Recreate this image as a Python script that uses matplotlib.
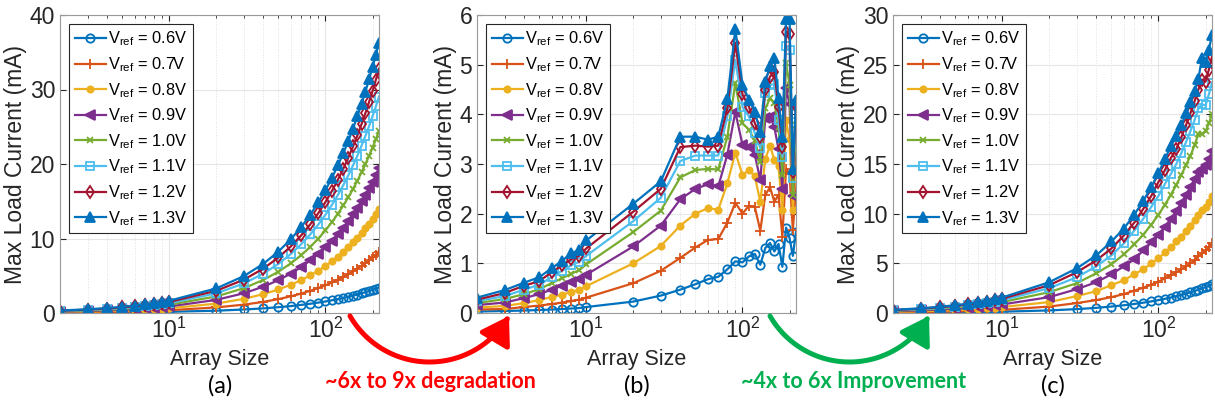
import numpy as np
import matplotlib
matplotlib.use("Agg")
import matplotlib.pyplot as plt
from matplotlib.path import Path
from matplotlib.patches import FancyArrowPatch
from matplotlib.ticker import LogLocator, NullFormatter

plt.rcParams['font.family'] = ['Liberation Sans', 'DejaVu Sans']
plt.rcParams['mathtext.fontset'] = 'custom'
plt.rcParams['mathtext.rm'] = 'Liberation Sans'
plt.rcParams['mathtext.it'] = 'Liberation Sans:italic'
plt.rcParams['mathtext.bf'] = 'Liberation Sans:bold'

# array sizes on the x axis
sizes = [2, 3, 4, 5, 6, 7, 8, 9, 10,
         20, 30, 40, 50, 60, 70, 80, 90, 100,
         110, 120, 130, 140, 150, 160, 170, 180, 190, 200, 210, 220]

vrefs = ['0.6', '0.7', '0.8', '0.9', '1.0', '1.1', '1.2', '1.3']

# (a) max load current, mA
cur_a = [
    [0.03, 0.05, 0.06, 0.08, 0.09, 0.11, 0.12, 0.14, 0.16,
     0.31, 0.47, 0.62, 0.78, 0.93, 1.09, 1.24, 1.40, 1.55,
     1.71, 1.86, 2.02, 2.17, 2.33, 2.48, 2.64, 2.79, 2.95, 3.10, 3.26, 3.41],
    [0.07, 0.11, 0.15, 0.19, 0.22, 0.26, 0.30, 0.34, 0.37,
     0.75, 1.12, 1.49, 1.87, 2.24, 2.61, 2.98, 3.36, 3.73,
     4.10, 4.48, 4.85, 5.22, 5.60, 5.97, 6.34, 6.71, 7.09, 7.46, 7.83, 8.21],
    [0.13, 0.19, 0.25, 0.32, 0.38, 0.44, 0.51, 0.57, 0.63,
     1.26, 1.90, 2.53, 3.16, 3.79, 4.42, 5.06, 5.69, 6.32,
     6.95, 7.58, 8.22, 8.85, 9.48, 10.11, 10.74, 11.38, 12.01, 12.64, 13.27, 13.90],
    [0.18, 0.26, 0.35, 0.44, 0.53, 0.62, 0.71, 0.79, 0.88,
     1.76, 2.65, 3.53, 4.41, 5.29, 6.17, 7.06, 7.94, 8.82,
     9.70, 10.58, 11.47, 12.35, 13.23, 14.11, 14.99, 15.88, 16.76, 17.64, 18.52, 19.40],
    [0.22, 0.33, 0.44, 0.56, 0.67, 0.78, 0.89, 1.00, 1.11,
     2.22, 3.33, 4.44, 5.55, 6.66, 7.77, 8.88, 9.99, 11.10,
     12.21, 13.32, 14.43, 15.54, 16.65, 17.76, 18.87, 19.98, 21.09, 22.20, 23.31, 24.42],
    [0.26, 0.40, 0.53, 0.66, 0.79, 0.92, 1.06, 1.19, 1.32,
     2.64, 3.96, 5.28, 6.60, 7.92, 9.24, 10.56, 11.88, 13.20,
     14.52, 15.84, 17.16, 18.48, 19.80, 21.12, 22.44, 23.76, 25.08, 26.40, 27.72, 29.04],
    [0.30, 0.45, 0.60, 0.75, 0.89, 1.04, 1.19, 1.34, 1.49,
     2.98, 4.47, 5.96, 7.45, 8.94, 10.43, 11.92, 13.41, 14.90,
     16.39, 17.88, 19.37, 20.86, 22.35, 23.84, 25.33, 26.82, 28.31, 29.80, 31.29, 32.78],
    [0.33, 0.50, 0.66, 0.83, 0.99, 1.16, 1.32, 1.49, 1.65,
     3.30, 4.95, 6.60, 8.25, 9.90, 11.55, 13.20, 14.85, 16.50,
     18.15, 19.80, 21.45, 23.10, 24.75, 26.40, 28.05, 29.70, 31.35, 33.00, 34.65, 36.30],
]

# (b) max load current, mA
cur_b = [
    [0.03, 0.04, 0.05, 0.06, 0.07, 0.08, 0.09, 0.10, 0.12,
     0.23, 0.35, 0.47, 0.58, 0.68, 0.73, 0.88, 1.04, 1.02,
     1.14, 1.19, 0.97, 1.31, 1.41, 1.24, 1.39, 0.93, 1.72, 1.51, 1.15, 1.63],
    [0.07, 0.08, 0.12, 0.15, 0.18, 0.21, 0.24, 0.27, 0.31,
     0.60, 0.85, 1.11, 1.32, 1.47, 1.49, 1.82, 2.22, 2.00,
     2.16, 2.13, 1.66, 2.38, 2.53, 2.24, 2.38, 1.54, 2.90, 2.80, 1.67, 2.51],
    [0.11, 0.14, 0.20, 0.26, 0.32, 0.37, 0.42, 0.47, 0.54,
     1.00, 1.35, 1.76, 2.00, 2.11, 2.08, 2.61, 3.23, 2.78,
     2.88, 2.75, 2.24, 3.10, 3.37, 3.08, 2.95, 2.08, 3.88, 3.50, 2.08, 3.10],
    [0.16, 0.21, 0.30, 0.38, 0.47, 0.55, 0.62, 0.68, 0.77,
     1.34, 1.76, 2.29, 2.50, 2.59, 2.55, 3.19, 4.05, 3.38,
     3.35, 3.18, 2.68, 3.92, 3.95, 3.74, 3.30, 2.50, 4.53, 4.20, 2.35, 3.51],
    [0.20, 0.28, 0.38, 0.48, 0.60, 0.70, 0.79, 0.86, 0.98,
     1.63, 2.06, 2.73, 2.88, 2.90, 2.89, 3.55, 4.63, 3.82,
     3.69, 3.47, 3.05, 4.12, 4.32, 4.23, 3.75, 2.78, 5.03, 4.60, 2.38, 3.79],
    [0.24, 0.34, 0.47, 0.57, 0.72, 0.85, 0.96, 1.03, 1.15,
     1.85, 2.32, 3.06, 3.17, 3.17, 3.17, 3.96, 5.10, 4.15,
     3.96, 3.62, 3.32, 4.42, 4.59, 4.61, 3.89, 3.15, 5.37, 5.30, 2.72, 4.00],
    [0.27, 0.40, 0.55, 0.64, 0.82, 0.96, 1.08, 1.15, 1.30,
     2.04, 2.50, 3.34, 3.37, 3.35, 3.37, 4.13, 5.44, 4.40,
     4.15, 3.82, 3.55, 4.50, 4.76, 4.86, 4.15, 3.35, 5.66, 5.61, 2.83, 4.16],
    [0.31, 0.46, 0.61, 0.72, 0.90, 1.05, 1.20, 1.27, 1.46,
     2.20, 2.65, 3.55, 3.55, 3.49, 3.55, 4.31, 5.71, 4.60,
     4.29, 4.05, 3.64, 4.66, 4.97, 5.13, 4.32, 3.55, 5.92, 5.91, 2.90, 4.29],
]

# (c) max load current, mA
cur_c = [
    [0.03, 0.04, 0.05, 0.07, 0.08, 0.09, 0.11, 0.12, 0.13,
     0.26, 0.39, 0.52, 0.65, 0.78, 0.91, 1.04, 1.17, 1.30,
     1.43, 1.56, 1.69, 1.82, 1.95, 2.08, 2.21, 2.34, 2.47, 2.60, 2.74, 2.88],
    [0.06, 0.10, 0.13, 0.16, 0.19, 0.22, 0.26, 0.29, 0.32,
     0.65, 1.00, 1.30, 1.60, 1.90, 2.25, 2.55, 2.85, 3.15,
     3.50, 3.80, 4.10, 4.40, 4.70, 5.00, 5.30, 5.70, 6.00, 6.30, 6.60, 7.00],
    [0.12, 0.18, 0.24, 0.30, 0.36, 0.42, 0.48, 0.54, 0.60,
     1.10, 1.70, 2.20, 2.80, 3.30, 3.90, 4.40, 5.00, 5.50,
     6.10, 6.60, 7.20, 7.70, 8.30, 8.80, 9.40, 9.90, 10.40, 10.70, 11.20, 11.80],
    [0.17, 0.26, 0.35, 0.43, 0.52, 0.60, 0.69, 0.78, 0.86,
     1.60, 2.40, 3.10, 3.90, 4.70, 5.40, 6.30, 7.10, 7.90,
     8.70, 9.50, 10.30, 11.10, 11.90, 12.70, 13.50, 14.20, 14.50, 14.90, 15.50, 16.30],
    [0.22, 0.33, 0.44, 0.55, 0.66, 0.77, 0.88, 0.99, 1.10,
     2.10, 3.00, 4.00, 4.90, 5.90, 6.90, 7.90, 8.90, 9.90,
     10.90, 11.90, 12.90, 13.90, 14.90, 15.80, 16.90, 18.00, 18.00, 18.30, 19.10, 20.00],
    [0.26, 0.38, 0.51, 0.64, 0.77, 0.89, 1.02, 1.15, 1.28,
     2.50, 3.60, 4.70, 5.80, 7.00, 8.30, 9.50, 10.70, 11.80,
     13.00, 14.00, 15.00, 16.10, 17.20, 18.30, 19.40, 20.60, 21.00, 20.90, 22.00, 23.20],
    [0.29, 0.43, 0.58, 0.72, 0.86, 1.01, 1.15, 1.29, 1.44,
     2.80, 4.10, 5.30, 6.50, 7.80, 9.10, 10.50, 11.80, 13.20,
     14.40, 15.60, 16.50, 17.70, 18.90, 20.10, 21.30, 22.50, 23.50, 23.30, 24.50, 25.80],
    [0.32, 0.47, 0.63, 0.78, 0.94, 1.09, 1.25, 1.40, 1.56,
     3.10, 4.50, 5.80, 7.20, 8.50, 9.90, 11.30, 12.70, 14.10,
     15.50, 16.80, 17.80, 18.90, 20.10, 21.20, 22.30, 23.60, 25.70, 25.30, 26.50, 28.00],
]

colors = ['#0072BD', '#D95319', '#EDB120', '#7E2F8E',
          '#77AC30', '#4DBEEE', '#A2142F', '#0072BD']
# marker, filled?
markers = [('o', False), ('+', True), ('o', True), ('<', True),
           ('x', True), ('s', False), ('d', False), ('^', True)]
msizes = [6, 7, 4.5, 7, 4.5, 6, 6, 7]


def draw_panel(ax, data, ymax, yticks):
    for i, ys in enumerate(data):
        m, filled = markers[i]
        ax.plot(sizes, ys, color=colors[i], lw=1.6, marker=m,
                ms=msizes[i], mew=1.3,
                mfc=colors[i] if filled else 'none',
                label=r'V$_{\rm ref}$ = ' + vrefs[i] + 'V')
    ax.set_xscale('log')
    ax.set_xlim(2, 220)
    ax.set_ylim(0, ymax)
    ax.set_yticks(yticks)
    ax.xaxis.set_major_locator(LogLocator(base=10, numticks=5))
    ax.xaxis.set_minor_locator(LogLocator(base=10, subs=np.arange(2, 10), numticks=20))
    ax.xaxis.set_minor_formatter(NullFormatter())
    ax.grid(True, which='major', color='#e6e6e6', lw=0.8)
    ax.grid(True, which='minor', axis='x', color='#e0e0e0', lw=0.7, ls=':')
    ax.set_axisbelow(True)
    for s in ax.spines.values():
        s.set_color('#9a9a9a')
        s.set_linewidth(0.8)
    ax.tick_params(which='both', direction='in', colors='#262626',
                   labelsize=16.5, top=True, right=True)
    ax.tick_params(which='major', length=4)
    ax.tick_params(which='minor', length=2)
    ax.set_xlabel('Array Size', fontsize=15.5, color='#262626', labelpad=4)
    ax.set_ylabel('Max Load Current (mA)', fontsize=16.5, color='#262626', labelpad=2)
    leg = ax.legend(loc='upper left', fontsize=11.8, handlelength=1.9,
                    handletextpad=0.15, labelspacing=0.42, borderpad=0.35,
                    borderaxespad=0.55, fancybox=False, framealpha=1)
    leg.get_frame().set_edgecolor('#262626')
    leg.get_frame().set_linewidth(0.8)


W, H = 1215, 412
fig = plt.figure(figsize=(W / 100, H / 100), dpi=100)

panels = [(60, cur_a, 40, [0, 10, 20, 30, 40], '(a)'),
          (477, cur_b, 6, [0, 1, 2, 3, 4, 5, 6], '(b)'),
          (893, cur_c, 30, [0, 5, 10, 15, 20, 25, 30], '(c)')]
for left, data, ymax, yt, tag in panels:
    ax = fig.add_axes([left / W, (H - 313) / H, 319 / W, 298 / H])
    draw_panel(ax, data, ymax, yt)
    fig.text((left + 160) / W, 1 - 386 / H, tag, ha='center', va='center',
             fontsize=17, family='Lato')


def arc_arrow(x0, x1, ybase, depth, color):
    # circular arc sagging below two points given in pixels (y from top)
    c = x1 - x0
    r = (c * c / 4 + depth * depth) / (2 * depth)
    cx = (x0 + x1) / 2
    cy = ybase + depth - r
    th0 = np.arctan2(ybase - cy, x0 - cx)
    th1 = np.arctan2(ybase - cy, x1 - cx)
    t = np.linspace(th0, th1, 60)
    px = cx + r * np.cos(t)
    py = cy + r * np.sin(t)
    verts = np.column_stack([px / W, 1 - py / H])
    arr = FancyArrowPatch(path=Path(verts), transform=fig.transFigure,
                          arrowstyle='-|>,head_length=11,head_width=7',
                          color=color, lw=3.6, mutation_scale=1.5)
    fig.add_artist(arr)


arc_arrow(350, 509, 316, 46, '#FF0000')
arc_arrow(770, 929, 316, 46, '#00B050')

fig.text(430 / W, 1 - 381 / H, '~6x to 9x degradation', color='#FF0000',
         fontsize=15.5, fontweight='bold', family='Lato', ha='center', va='center')
fig.text(854 / W, 1 - 381 / H, '~4x to 6x Improvement', color='#00B050',
         fontsize=15.5, fontweight='bold', family='Lato', ha='center', va='center')

fig.savefig('out.png', dpi=100)
